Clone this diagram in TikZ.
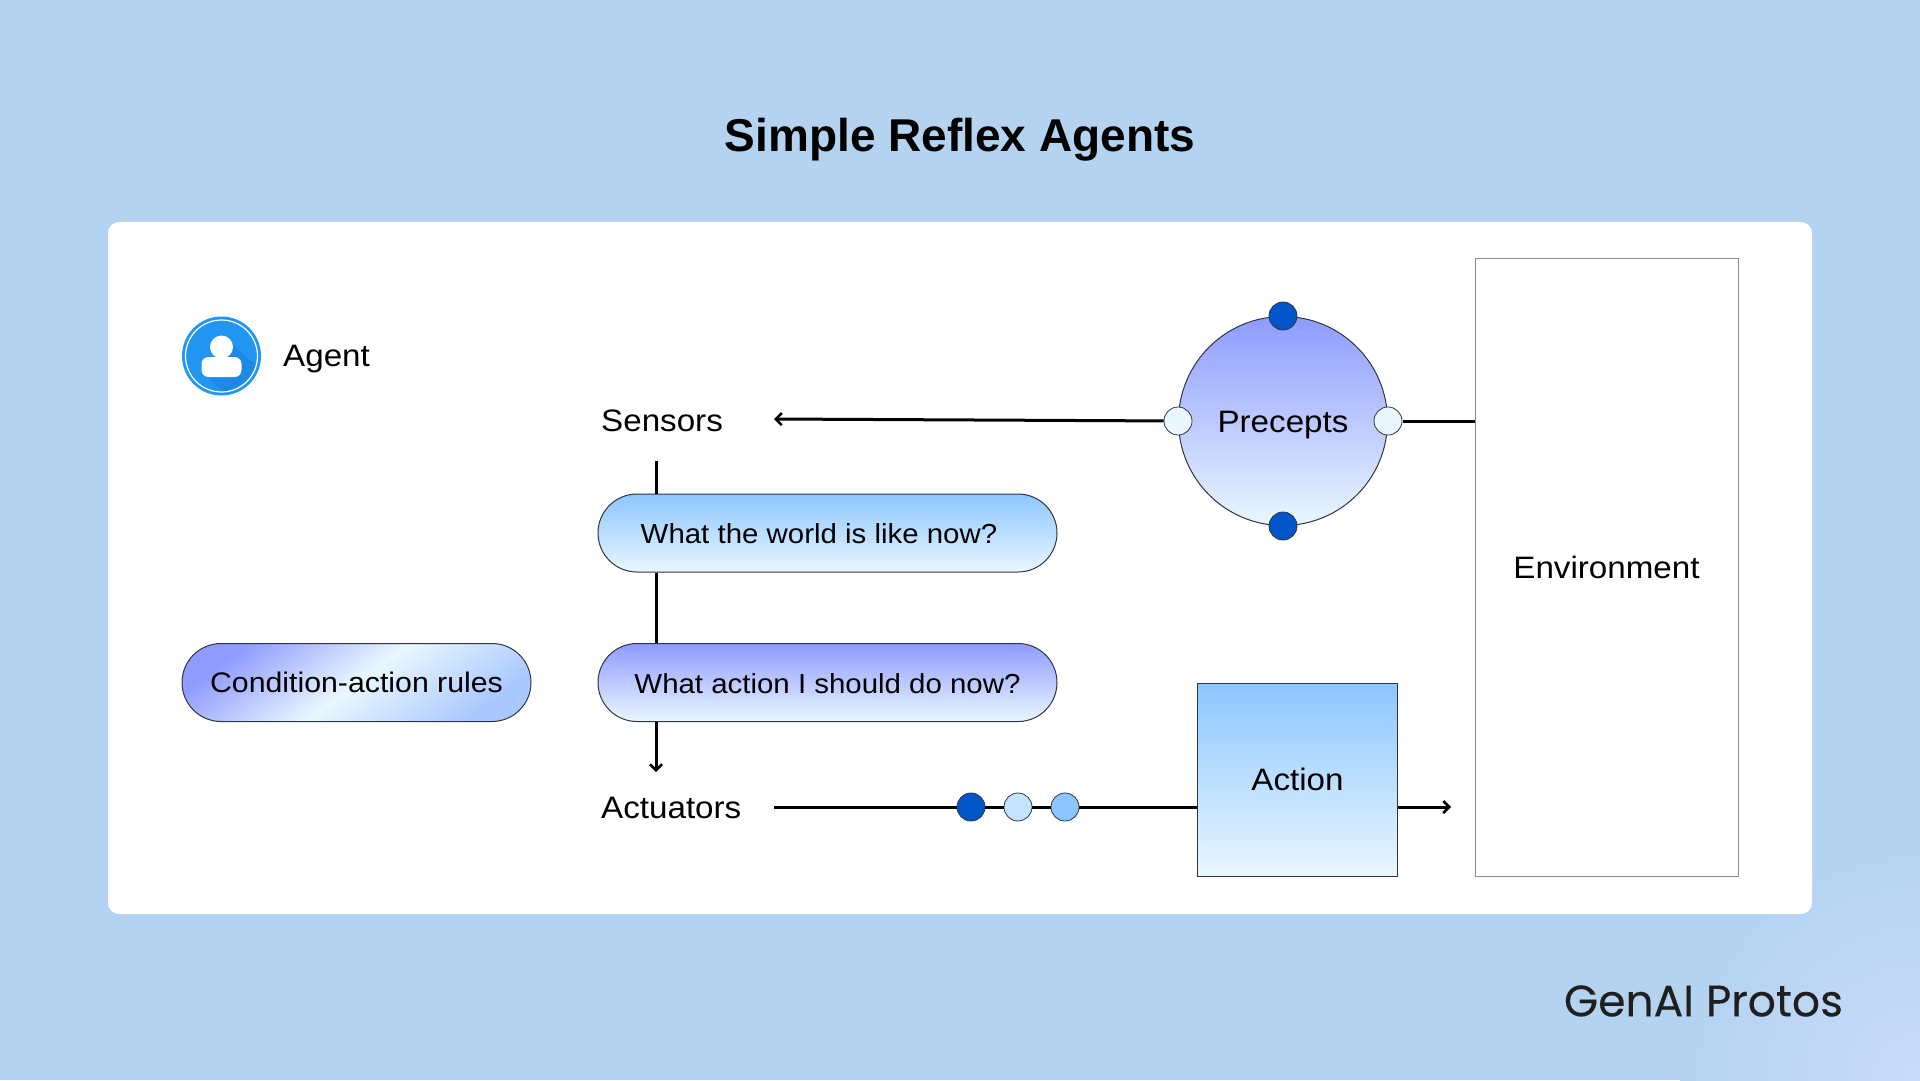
\documentclass[tikz,border=0pt]{standalone}
\usepackage{fontspec}
\setmainfont{Liberation Sans}[FakeStretch=1.07]
\newfontfamily\titlefont{Liberation Sans}
\newfontfamily\logofont{Poppins}[FakeBold=0.2]
\usetikzlibrary{positioning,arrows.meta,shapes.misc}

\definecolor{pageblue}{HTML}{B3D3F0}
\definecolor{cornerblue}{HTML}{CBDBFC}
\definecolor{skyblue}{HTML}{8CC6FF}
\definecolor{violet}{HTML}{8F9BFF}
\definecolor{paleblue}{HTML}{EAF7FF}
\definecolor{rulesend}{HTML}{A9C8FF}
\definecolor{deepblue}{HTML}{0055C8}
\definecolor{iconblue}{HTML}{2196F3}
\definecolor{iconshade}{HTML}{1E88E5}
\definecolor{edgegrey}{HTML}{2F3640}

\tikzset{
  label text/.style={font=\fontsize{31}{36}\selectfont,inner sep=0pt,text height=22pt,text depth=0pt},
  pill/.style={rounded rectangle,draw=edgegrey,line width=1pt,minimum width=459pt,minimum height=78pt,
    font=\fontsize{27.5}{33}\selectfont,inner sep=0pt,text height=21pt,text depth=1pt},
  world pill/.style={pill,top color=skyblue,bottom color=paleblue},
  action pill/.style={pill,top color=violet,bottom color=paleblue,text height=23pt},
  dot/.style={circle,draw=edgegrey,line width=.8pt,minimum size=28pt,inner sep=0pt},
  wire/.style={line width=3pt,black},
  flow/.style={wire,-{Straight Barb[length=6pt,width=12pt,line width=2.5pt]}},
}

\begin{document}
\begin{tikzpicture}[x=1pt,y=-1pt,node distance=47pt,on grid]
  \useasboundingbox (0,0) rectangle (1920,1080);
  \fill[pageblue] (0,0) rectangle (1920,1080);
  \begin{scope}
    \clip (0,0) rectangle (1920,1080);
    \shade[inner color=cornerblue,outer color=pageblue] (1920,1080) circle (240);
  \end{scope}
  \fill[white,rounded corners=11pt] (108,222) rectangle (1812,914);

  % agent badge
  \path node[circle,fill=iconblue,minimum size=79pt,inner sep=0pt] (badge) at (221.5,356) {};
  \begin{scope}
    \clip (221.5,356) circle (35);
    \fill[iconshade] (233,345) -- (270,378) -- (270,400) -- (232,400) -- (205,375) -- cycle;
  \end{scope}
  \draw[white,line width=1.2pt] (badge.center) circle (36);
  \fill[white] (221.5,347) circle (11.5);
  \fill[white,rounded corners=7pt] (201.5,357) rectangle (241.5,377);

  \path
  node[label text,anchor=west] (agent) at (283,355) {Agent}
  node[font=\titlefont\bfseries\fontsize{46}{54}\selectfont,inner sep=0pt] (title) at (960,140) {Simple Reflex Agents}
  node[label text,anchor=west] (sensors) at (601,420) {Sensors}
  node[label text,anchor=west] (actuators) at (601,807) {Actuators}
  node[world pill] (world) at (827.5,533) {What the world is like now?\hspace{17pt}\null}
  node[action pill] (choice) at (827.5,682.5) {What action I should do now?}
  node[pill,minimum width=349pt,font=\fontsize{28.3}{33}\selectfont,left color=violet,right color=rulesend,middle color=paleblue,shading angle=37] (rules) at (356.5,682.5) {Condition-action rules}
  node[circle,draw=edgegrey,line width=1pt,top color=violet,bottom color=paleblue,minimum size=209pt,inner sep=0pt,label text] (precepts) at (1283,421) {Precepts}
  node[rectangle,draw=edgegrey,line width=1pt,top color=skyblue,bottom color=paleblue,minimum width=200pt,minimum height=193pt,label text] (action) at (1297.5,779.5) {Action}
  node[rectangle,draw=black!45,line width=1pt,minimum width=263pt,minimum height=618pt,fill=white,label text] (environment) at (1606.5,567.5) {Environment}
  ;

  % connectors, drawn before the dots so those sit on top
  \coordinate (sensorsin) at (774,419);
  \coordinate (sensorsout) at (656,461);
  \coordinate (actuatorsin) at (656,772);
  \coordinate (actuatorsout) at (774,807);
  \coordinate (actionout) at (1451,807);
  \coordinate (envin) at (environment.west |- precepts);

  \path
  node[dot,fill=deepblue] (top) at (precepts.north) {}
  node[dot,fill=deepblue] (bottom) at (precepts.south) {}
  node[dot,fill=paleblue] (left) at (precepts.west) {}
  node[dot,fill=paleblue] (right) at (precepts.east) {}
  node[dot,fill=deepblue] (first) at (971,807) {}
  node[dot,fill=paleblue!60!skyblue] (second) [right=of first] {}
  node[dot,fill=skyblue] (third) [right=of second] {}
  ;

  \path[wire]
  (sensorsout) edge (world.north -| sensorsout)
  (world.south -| sensorsout) edge (choice.north -| sensorsout)
  (right) edge[shorten <=1pt] (envin)
  (actuatorsout) edge (first)
  (first) edge (second)
  (second) edge (third)
  (third) edge (action.west |- third)
  ;
  \path[flow]
  (left) edge (sensorsin)
  (choice.south -| actuatorsin) edge (actuatorsin)
  (action.east |- actionout) edge (actionout)
  ;

  \node[font=\logofont\fontsize{44}{52}\selectfont,text=black!88,inner sep=0pt] (logo) at (1703.5,1001) {GenAI Protos};
\end{tikzpicture}
\end{document}
